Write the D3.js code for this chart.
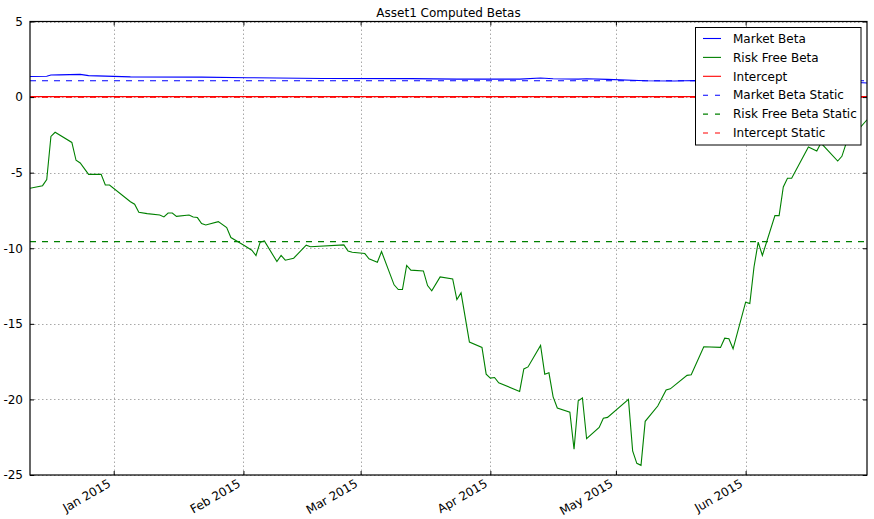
<!DOCTYPE html>
<html>
<head>
<meta charset="utf-8">
<script src="https://cdn.jsdelivr.net/npm/d3@7"></script>
<style>
  body { margin: 0; background: #fff; }
  svg { display: block; font-family: "DejaVu Sans", sans-serif; }
</style>
</head>
<body>
<svg id="chart" width="874" height="519"></svg>
<script>
// ---------------- data ----------------
const title = "Asset1 Computed Betas";
const seriesNames = ["Market Beta", "Risk Free Beta", "Intercept",
  "Market Beta Static", "Risk Free Beta Static", "Intercept Static"];
const xDomainDates = ["2014-12-12", "2015-06-30"];
const yTicks = [-25, -20, -15, -10, -5, 0, 5];
const xTickDates = ["2015-01-01", "2015-02-01", "2015-03-01", "2015-04-01", "2015-05-01", "2015-06-01"];

const marketDates = ["2014-12-12", "2014-12-16", "2014-12-17", "2014-12-19", "2014-12-24", "2014-12-26",
  "2015-01-05", "2015-01-22", "2015-02-02", "2015-02-20", "2015-03-13", "2015-03-24", "2015-04-08",
  "2015-04-13", "2015-04-16", "2015-04-22", "2015-04-24", "2015-04-29", "2015-05-08", "2015-05-15",
  "2015-05-20", "2015-06-01", "2015-06-15", "2015-06-29", "2015-06-30"];
const marketValues = [1.36, 1.38, 1.46, 1.47, 1.50, 1.42,
  1.34, 1.32, 1.28, 1.23, 1.22, 1.19, 1.19,
  1.26, 1.21, 1.19, 1.21, 1.17, 1.08, 1.06,
  1.10, 1.05, 1.00, 0.95, 0.93];

const riskFreeDates = ["2014-12-12", "2014-12-15", "2014-12-16", "2014-12-17", "2014-12-18", "2014-12-22",
  "2014-12-23", "2014-12-24", "2014-12-26", "2014-12-29", "2014-12-30", "2014-12-31", "2015-01-05",
  "2015-01-06", "2015-01-07", "2015-01-09", "2015-01-12", "2015-01-13", "2015-01-14", "2015-01-15",
  "2015-01-16", "2015-01-19", "2015-01-20", "2015-01-21", "2015-01-22", "2015-01-23", "2015-01-26",
  "2015-01-28", "2015-01-29", "2015-02-01", "2015-02-03", "2015-02-04", "2015-02-05", "2015-02-06",
  "2015-02-09", "2015-02-10", "2015-02-11", "2015-02-13", "2015-02-16", "2015-02-17", "2015-02-25",
  "2015-02-26", "2015-02-27", "2015-03-02", "2015-03-03", "2015-03-05", "2015-03-06", "2015-03-09",
  "2015-03-10", "2015-03-11", "2015-03-12", "2015-03-13", "2015-03-16", "2015-03-17", "2015-03-18",
  "2015-03-20", "2015-03-23", "2015-03-24", "2015-03-25", "2015-03-27", "2015-03-30", "2015-03-31",
  "2015-04-01", "2015-04-02", "2015-04-03", "2015-04-08", "2015-04-09", "2015-04-10", "2015-04-13",
  "2015-04-14", "2015-04-15", "2015-04-16", "2015-04-17", "2015-04-20", "2015-04-21", "2015-04-22",
  "2015-04-23", "2015-04-24", "2015-04-27", "2015-04-28", "2015-04-29", "2015-05-04", "2015-05-05",
  "2015-05-06", "2015-05-07", "2015-05-08", "2015-05-11", "2015-05-13", "2015-05-14", "2015-05-18",
  "2015-05-19", "2015-05-22", "2015-05-26", "2015-05-27", "2015-05-28", "2015-05-29", "2015-06-01",
  "2015-06-02", "2015-06-03", "2015-06-04", "2015-06-05", "2015-06-08", "2015-06-09", "2015-06-10",
  "2015-06-11", "2015-06-12", "2015-06-16", "2015-06-18", "2015-06-19", "2015-06-23", "2015-06-24",
  "2015-06-25", "2015-06-30"];
const riskFreeValues = [-6.03, -5.86, -5.46, -2.60, -2.33, -3.00,
  -4.18, -4.36, -5.11, -5.11, -5.82, -5.82, -6.92,
  -7.09, -7.62, -7.71, -7.80, -7.93, -7.67, -7.67,
  -7.89, -7.80, -7.93, -7.97, -8.37, -8.46, -8.24,
  -8.63, -9.29, -9.78, -10.13, -10.48, -9.60, -9.52,
  -10.88, -10.48, -10.79, -10.66, -9.80, -9.90, -9.78,
  -10.18, -10.26, -10.35, -10.70, -10.93, -10.22, -12.42,
  -12.73, -12.73, -11.14, -11.45, -11.50, -12.47, -12.82,
  -11.90, -12.03, -13.39, -12.95, -16.21, -16.56, -18.33,
  -18.59, -18.55, -18.90, -19.47, -17.98, -17.85, -16.43,
  -18.33, -18.24, -19.83, -20.57, -20.84, -23.30, -20.09,
  -19.91, -22.60, -21.85, -21.24, -21.19, -20.00, -23.40,
  -24.23, -24.36, -21.45, -20.44, -19.38, -19.30, -18.41,
  -18.37, -16.52, -16.56, -15.95, -15.99, -16.65, -13.57,
  -13.66, -11.24, -9.60, -10.48, -7.84, -7.84, -5.95,
  -5.37, -5.37, -3.30, -3.57, -3.04, -4.23, -3.92,
  -3.08, -1.50];

const interceptDates = ["2014-12-12", "2015-03-01", "2015-06-30"];
const interceptValues = [0.03, 0.03, 0.03];

const marketStatic = 1.08;
const riskFreeStatic = -9.56;
const interceptStatic = 0.0;

const colors = ["#0000ff", "#008000", "#ff0000", "#0000ff", "#008000", "#ff0000"];

// ---------------- chart ----------------
const parse = d3.timeParse("%Y-%m-%d");
const svg = d3.select("#chart");
const L = 30, R = 867, T = 21.5, B = 475;

const x = d3.scaleTime().domain(xDomainDates.map(parse)).range([L, R]);
const y = d3.scaleLinear().domain([-25, 5]).range([B, T]);

svg.append("defs").append("clipPath").attr("id", "plotclip")
  .append("rect").attr("x", L).attr("y", T).attr("width", R - L).attr("height", B - T);

// grid
const grid = svg.append("g");
yTicks.forEach(v => {
  grid.append("line").attr("x1", L).attr("x2", R).attr("y1", Math.round(y(v)) + 0.5).attr("y2", Math.round(y(v)) + 0.5)
    .attr("stroke", "#a8a8a8").attr("stroke-width", 1).attr("stroke-dasharray", "1.5,2.5");
});
xTickDates.map(parse).forEach(d => {
  grid.append("line").attr("y1", T).attr("y2", B).attr("x1", Math.round(x(d)) + 0.5).attr("x2", Math.round(x(d)) + 0.5)
    .attr("stroke", "#a8a8a8").attr("stroke-width", 1).attr("stroke-dasharray", "1.5,2.5");
});

// lines
const line = d3.line().x(d => x(d[0])).y(d => y(d[1]));
const plot = svg.append("g").attr("clip-path", "url(#plotclip)");
const zipS = (ds, vs) => ds.map((d, i) => [parse(d), vs[i]]);
const dom = xDomainDates.map(parse);
const series = [
  { data: zipS(marketDates, marketValues), dash: null },
  { data: zipS(riskFreeDates, riskFreeValues), dash: null },
  { data: zipS(interceptDates, interceptValues), dash: null },
  { data: dom.map(d => [d, marketStatic]), dash: "6,6" },
  { data: dom.map(d => [d, riskFreeStatic]), dash: "6,6" },
  { data: dom.map(d => [d, interceptStatic]), dash: "6,6" }
];
series.forEach((s, i) => {
  plot.append("path").datum(s.data).attr("d", line)
    .attr("fill", "none").attr("stroke", colors[i]).attr("stroke-width", 1.1)
    .attr("stroke-dasharray", s.dash);
});

// axes (matplotlib classic: inward ticks on all sides)
const fmtY = v => String(v).replace("\u2212", "-");
const axL = svg.append("g").attr("transform", `translate(${L},0)`)
  .call(d3.axisLeft(y).tickValues(yTicks).tickSize(-4).tickPadding(7).tickFormat(fmtY));
const axR = svg.append("g").attr("transform", `translate(${R},0)`)
  .call(d3.axisRight(y).tickValues(yTicks).tickSize(-4).tickFormat(""));
const axB = svg.append("g").attr("transform", `translate(0,${B})`)
  .call(d3.axisBottom(x).tickValues(xTickDates.map(parse)).tickSize(-4).tickFormat(""));
const axT = svg.append("g").attr("transform", `translate(0,${T})`)
  .call(d3.axisTop(x).tickValues(xTickDates.map(parse)).tickSize(-4).tickFormat(""));
[axL, axR, axB, axT].forEach(a => {
  a.select(".domain").remove();
  a.selectAll("line").attr("stroke", "#000");
  a.selectAll("text").attr("font-size", 12).attr("fill", "#000").attr("font-family", "DejaVu Sans");
});

// rotated x labels
const fmtX = d3.timeFormat("%b %Y");
svg.append("g").selectAll("text").data(xTickDates.map(parse)).join("text")
  .attr("transform", d => `translate(${x(d) - 2},${B + 11}) rotate(-30)`)
  .attr("text-anchor", "end").attr("font-size", 12).attr("fill", "#000")
  .text(d => fmtX(d));

// frame
svg.append("rect").attr("x", L).attr("y", T).attr("width", R - L).attr("height", B - T)
  .attr("fill", "none").attr("stroke", "#000").attr("stroke-width", 1.2);

// title
svg.append("text").attr("x", (L + R) / 2).attr("y", 17).attr("text-anchor", "middle")
  .attr("font-size", 12).attr("fill", "#000").text(title);

// legend
const lg = svg.append("g");
lg.append("rect").attr("x", 695.5).attr("y", 27.5).attr("width", 165.5).attr("height", 117.5)
  .attr("fill", "#fff").attr("stroke", "#000").attr("stroke-width", 1);
seriesNames.forEach((name, i) => {
  const yy = 38.5 + i * 18.9;
  lg.append("line").attr("x1", 703).attr("x2", 721).attr("y1", yy).attr("y2", yy)
    .attr("stroke", colors[i]).attr("stroke-width", 1.1)
    .attr("stroke-dasharray", i >= 3 ? "5,7" : null);
  lg.append("text").attr("x", 733).attr("y", yy).attr("dy", "0.35em")
    .attr("font-size", 12).attr("fill", "#000").text(name);
});
</script>
</body>
</html>
